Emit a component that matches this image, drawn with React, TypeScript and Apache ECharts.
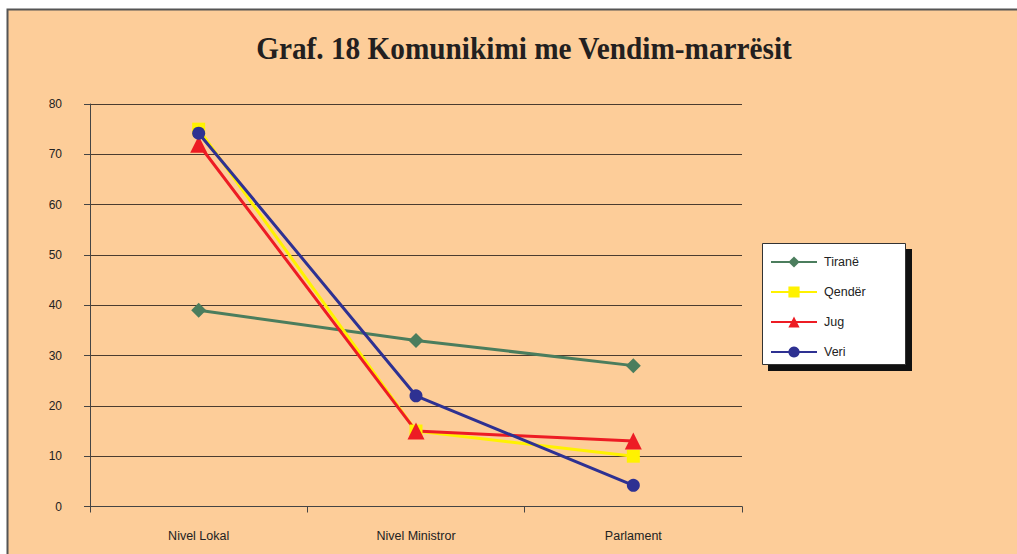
import React, { useEffect, useRef } from "react";
import * as echarts from "echarts";

const categories = ["Nivel Lokal", "Nivel Ministror", "Parlament"];
const tirane = [39, 33, 28];
const qender = [75, 15, 10];
const jug = [72, 15, 13];
const veri = [74.2, 22, 4.2];
const seriesNames = ["Tiranë", "Qendër", "Jug", "Veri"];
const titleText = "Graf. 18 Komunikimi me Vendim-marrësit";

export default function App() {
  const ref = useRef<HTMLDivElement>(null);
  useEffect(() => {
    if (!ref.current) return;
    const chart = echarts.init(ref.current, null, { renderer: "svg" });
    const font = "'Liberation Sans', Arial, sans-serif";
    const mk = (name: string, data: number[], color: string, symbol: string, size: number) => ({
      name,
      type: "line",
      data,
      symbol,
      symbolSize: size,
      showAllSymbol: true,
      lineStyle: { color, width: 3 },
      itemStyle: { color },
      emphasis: { disabled: true },
    });
    chart.setOption({
      animation: false,
      backgroundColor: "#ffffff",
      graphic: [
        {
          type: "rect",
          z: -10,
          shape: { x: 7.5, y: 9.5, width: 1020, height: 560 },
          style: { fill: "#FDCD99", stroke: "#555555", lineWidth: 2 },
          silent: true,
        },
        {
          type: "text",
          x: 524,
          y: 49,
          scaleX: 0.915,
          style: {
            text: titleText,
            fontFamily: "'Liberation Serif', 'Times New Roman', serif",
            fontWeight: "bold",
            fontSize: 32,
            fill: "#231f20",
            textAlign: "center",
            textVerticalAlign: "middle",
          },
        },
        {
          type: "rect",
          z: 1,
          shape: { x: 768, y: 249, width: 144, height: 122 },
          style: { fill: "#111111" },
          silent: true,
        },
        {
          type: "rect",
          z: 2,
          shape: { x: 762.5, y: 243.5, width: 143, height: 121 },
          style: { fill: "#ffffff", stroke: "#333333", lineWidth: 1 },
          silent: true,
        },
      ],
      grid: { left: 90, right: 275, top: 104, bottom: 47.5, containLabel: false },
      legend: {
        orient: "vertical",
        left: 765,
        top: 250,
        itemWidth: 46,
        itemHeight: 14,
        itemGap: 16,
        z: 5,
        data: seriesNames,
        textStyle: { fontFamily: font, fontSize: 12.5, color: "#222222", padding: [0, 0, 0, 2], lineHeight: 14 },
      },
      xAxis: {
        type: "category",
        data: categories,
        boundaryGap: true,
        axisLine: { lineStyle: { color: "#444444", width: 1 } },
        axisTick: { show: true, length: 6, lineStyle: { color: "#444444" } },
        axisLabel: { fontFamily: font, fontSize: 12.5, color: "#222222", margin: 23 },
        splitLine: { show: false },
      },
      yAxis: {
        type: "value",
        min: 0,
        max: 80,
        interval: 10,
        axisLine: { show: true, lineStyle: { color: "#444444", width: 1 } },
        axisTick: { show: true, length: 6, lineStyle: { color: "#444444" } },
        axisLabel: { fontFamily: font, fontSize: 12, color: "#222222", margin: 28 },
        splitLine: { show: true, lineStyle: { color: "#4a3c30", width: 1 } },
      },
      series: [
        mk("Tiranë", tirane, "#4B7D5D", "diamond", 15),
        mk("Qendër", qender, "#FFF200", "rect", 13),
        mk("Jug", jug, "#ED1C24", "triangle", 17),
        mk("Veri", veri, "#2E3192", "circle", 13),
      ],
    });
    return () => chart.dispose();
  }, []);
  return (
    <div
      ref={ref}
      style={{ position: "fixed", left: 0, top: 0, width: 1017, height: 554 }}
    />
  );
}
